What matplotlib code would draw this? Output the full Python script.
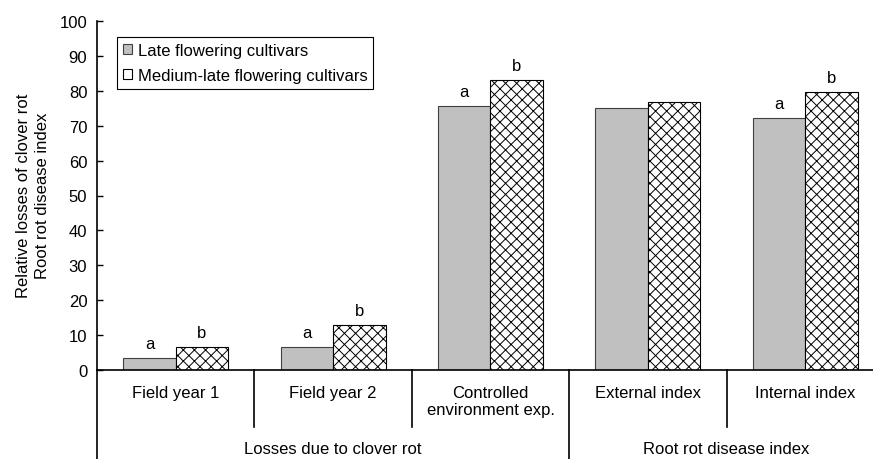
import matplotlib.pyplot as plt
import matplotlib.patches as mpatches
import numpy as np

plt.rcParams['font.family'] = ['Liberation Sans', 'DejaVu Sans']
plt.rcParams['font.size'] = 12
plt.rcParams['hatch.linewidth'] = 0.7

categories = ['Field year 1', 'Field year 2', 'Controlled\nenvironment exp.',
              'External index', 'Internal index']
groups = ['Losses due to clover rot', 'Root rot disease index']
group_spans = [(0, 2), (3, 4)]
late = [3.5, 6.7, 75.6, 75.1, 72.2]
medium_late = [6.7, 12.9, 83.1, 76.8, 79.6]
letters_late = ['a', 'a', 'a', '', 'a']
letters_medium = ['b', 'b', 'b', '', 'b']
series_names = ['Late flowering cultivars', 'Medium-late flowering cultivars']

W, H = 873, 460
fig = plt.figure(figsize=(W / 100, H / 100), dpi=100)
# axes area in pixels: left 97, right 884 (last group runs past the picture), y0=371, y100=22
ax = fig.add_axes([97 / W, (H - 371) / H, (884 - 97) / W, (371 - 22) / H])

x = np.arange(len(categories))
bw = 1 / 3
ax.bar(x - bw / 2, late, bw, color='#c0c0c0', edgecolor='#404040', linewidth=0.8)
ax.bar(x + bw / 2, medium_late, bw, color='white', edgecolor='black',
       linewidth=0.8, hatch='xxx')

for i in range(len(x)):
    if letters_late[i]:
        ax.text(x[i] - bw / 2, late[i] + 2, letters_late[i], ha='center', va='bottom')
    if letters_medium[i]:
        ax.text(x[i] + bw / 2, medium_late[i] + 2, letters_medium[i], ha='center', va='bottom')

ax.set_xlim(-0.5, 4.5)
ax.set_ylim(0, 100)
ax.set_yticks(np.arange(0, 101, 10))
ax.tick_params(axis='y', direction='in', length=4, width=1, pad=7)
ax.set_xticks([])
for s in ['top', 'right']:
    ax.spines[s].set_visible(False)
ax.spines['left'].set_linewidth(1.2)
ax.spines['bottom'].set_linewidth(1.2)

# multi-level category axis below the plot
bottom = -25.6
ax.plot([-0.5, -0.5], [0, bottom], color='black', lw=1.2, clip_on=False)
for i in range(len(categories) - 1):
    sep = i + 0.5
    end = bottom if sep == 2.5 else -16.3
    ax.plot([sep, sep], [0, end], color='black', lw=1.2, clip_on=False)
for i, c in enumerate(categories):
    ax.text(x[i], -4.4, c, ha='center', va='top', linespacing=1.1)
for g, (a, b) in zip(groups, group_spans):
    ax.text((a + b) / 2, -22.4, g, ha='center', va='center')

fig.text(33 / W, 1 - 196 / H, 'Relative losses of clover rot\nRoot rot disease index',
         rotation=90, ha='center', va='center', multialignment='center', linespacing=1.4)

handles = [mpatches.Patch(facecolor='#c0c0c0', edgecolor='#404040', linewidth=0.8),
           mpatches.Patch(facecolor='white', edgecolor='black', linewidth=0.8)]
leg = ax.legend(handles, series_names, loc='upper left',
                bbox_to_anchor=(20 / 787, 1 - 16 / 349), fancybox=False,
                edgecolor='black', framealpha=1, handlelength=0.55, handleheight=0.55,
                handletextpad=0.35, borderaxespad=0, borderpad=0.35, labelspacing=0.6)
leg.get_frame().set_linewidth(0.8)

fig.savefig('out.png', dpi=100)
